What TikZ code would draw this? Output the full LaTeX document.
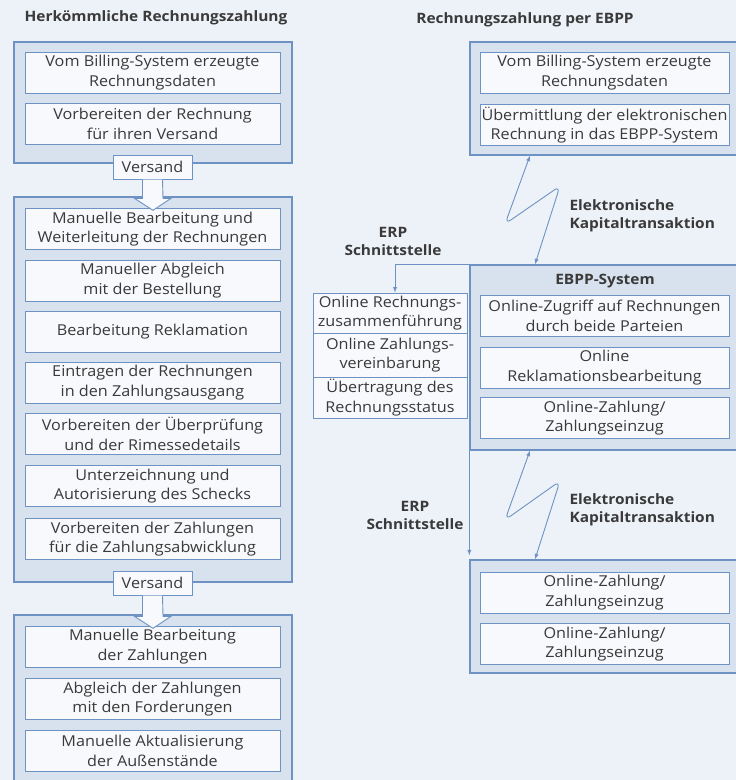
\documentclass[tikz,border=0pt]{standalone}
\usepackage{fontspec}
\setmainfont{Open Sans}[FakeStretch=1.08]
\usepackage{tikz}
\usetikzlibrary{arrows,positioning,calc}

\definecolor{bgcol}{HTML}{EDF2F8}
\definecolor{outerfill}{HTML}{D8E2EE}
\definecolor{innerfill}{HTML}{F7F9FC}
\definecolor{linecol}{HTML}{6E92C3}
\definecolor{textcol}{HTML}{3A3A3A}

\tikzset{
	>=latex,
	outerbox/.style = {
			draw=linecol, fill=outerfill,
			line width=1.3pt, inner sep=0pt,
		},
	procbox/.style = {
			draw=linecol, fill=innerfill, text=textcol,
			line width=1pt, align=center, inner sep=1pt,
			minimum width=255pt, minimum height=41pt,
			font=\fontsize{15}{19.5}\selectfont,
		},
	erpbox/.style = {
			procbox, minimum width=154pt,
		},
	sendbox/.style = {
			procbox, minimum width=79pt, minimum height=24pt,
		},
	heading/.style = {
			text=textcol, align=center,
			font=\fontsize{14.3}{18}\bfseries\selectfont,
		},
	flow/.style = {draw=linecol, line width=0.9pt},
}

\begin{document}
\begin{tikzpicture}[x=1pt, y=-1pt]
	\fill[bgcol] (0,0) rectangle (736,780);
	\useasboundingbox (0,0) rectangle (736,780);

	% herkoemmlich
	\node[heading] (titleL) at (156,18) {Herkömmliche Rechnungszahlung};
	\node[outerbox, minimum width=278pt, minimum height=121pt] (groupA) at (153,102.5) {};
	\node[procbox] (a1) at (152.5,72.5) {Vom Billing-System erzeugte\\Rechnungsdaten};
	\node[procbox] (a2) at (152.5,124) {Vorbereiten der Rechnung\\für ihren Versand};

	\node[outerbox, minimum width=278pt, minimum height=385pt] (groupB) at (153,389.5) {};
	\node[procbox] (b1) at (152.5,229) {Manuelle Bearbeitung und\\Weiterleitung der Rechnungen};
	\node[procbox] (b2) at (152.5,280.5) {Manueller Abgleich\\mit der Bestellung};
	\node[procbox] (b3) at (152.5,332) {Bearbeitung Reklamation};
	\node[procbox] (b4) at (152.5,382.5) {Eintragen der Rechnungen\\in den Zahlungsausgang};
	\node[procbox] (b5) at (152.5,434) {Vorbereiten der Überprüfung\\und der Rimessedetails};
	\node[procbox] (b6) at (152.5,486) {Unterzeichnung und\\Autorisierung des Schecks};
	\node[procbox] (b7) at (152.5,539) {Vorbereiten der Zahlungen\\für die Zahlungsabwicklung};

	\node[outerbox, minimum width=278pt, minimum height=166pt] (groupC) at (153,698) {};
	\node[procbox] (c1) at (152.5,646.5) {Manuelle Bearbeitung\\der Zahlungen};
	\node[procbox] (c2) at (152.5,699) {Abgleich der Zahlungen\\mit den Forderungen};
	\node[procbox] (c3) at (152.5,751) {Manuelle Aktualisierung\\der Außenstände};

	% Versand-Pfeile
	\foreach \s/\t/\y in {send1/groupB/167, send2/groupC/583} {
		\node[sendbox] (\s) at (152.5,\y) {Versand};
		\filldraw[flow, fill=innerfill, line join=miter]
			([xshift=-10pt]\s.south) -- ([xshift=-10pt,yshift=-2pt]\s.south |- \t.north)
			-- ++(-8,0) -- ([yshift=-14pt]\t.north) -- ++(18,-12) -- ++(-8,0)
			-- ([xshift=10pt]\s.south);
	}

	% EBPP
	\node[heading] (titleR) at (525,20) {Rechnungszahlung per EBPP};
	\node[outerbox, minimum width=270pt, minimum height=113pt] (groupR) at (605,98.5) {};
	\node[procbox, minimum width=249pt] (r1) at (604.5,72.5) {Vom Billing-System erzeugte\\Rechnungsdaten};
	\node[procbox, minimum width=249pt] (r2) at (604.5,125) {Übermittlung der elektronischen\\Rechnung in das EBPP-System};

	\node[outerbox, minimum width=270pt, minimum height=185pt] (sys) at (605,357.5) {};
	\node[heading, below=6pt of sys.north] (sysname) {EBPP-System};
	\node[procbox, minimum width=249pt] (s1) at (604.5,316) {Online-Zugriff auf Rechnungen\\durch beide Parteien};
	\node[procbox, minimum width=249pt] (s2) at (604.5,367.5) {Online\\Reklamationsbearbeitung};
	\node[procbox, minimum width=249pt] (s3) at (604.5,418) {Online-Zahlung/\\Zahlungseinzug};

	\node[erpbox, minimum height=40pt] (e1) at (390,313) {Online Rechnungs-\\zusammenführung};
	\node[erpbox, minimum height=44pt] (e2) at (390,355) {Online Zahlungs-\\vereinbarung};
	\node[erpbox, minimum height=41pt] (e3) at (390,397.5) {Übertragung des\\Rechnungsstatus};

	\node[outerbox, minimum width=270pt, minimum height=113pt] (pay) at (605,616.5) {};
	\node[procbox, minimum width=249pt] (p1) at (604.5,592.5) {Online-Zahlung/\\Zahlungseinzug};
	\node[procbox, minimum width=249pt] (p2) at (604.5,644) {Online-Zahlung/\\Zahlungseinzug};

	% Beschriftungen
	\node[heading, align=left, anchor=west] (kap1) at (566,216) {Elektronische\\Kapitaltransaktion};
	\node[heading] (erp1) at (393,241) {ERP\\Schnittstelle};
	\node[heading, align=left, anchor=west] (kap2) at (566,510) {Elektronische\\Kapitaltransaktion};
	\node[heading] (erp2) at (415,515) {ERP\\Schnittstelle};

	% Verbindungen
	\draw[flow, <->, rounded corners=7pt] ([xshift=-75pt]groupR.south) -- (505,224) -- (560,186) -- ([xshift=-70pt]sys.north);
	\draw[flow, <->, rounded corners=7pt] ([xshift=-75pt]sys.south) -- (505,520) -- (560,481) -- ([xshift=-70pt]pay.north);
	\draw[flow, ->] (sys.north west) -- ([xshift=5pt]e1.north |- sys.north west) -- ([xshift=5pt]e1.north);
	\draw[flow, ->] (sys.south west) -- ([yshift=4pt]pay.north west);
\end{tikzpicture}
\end{document}
